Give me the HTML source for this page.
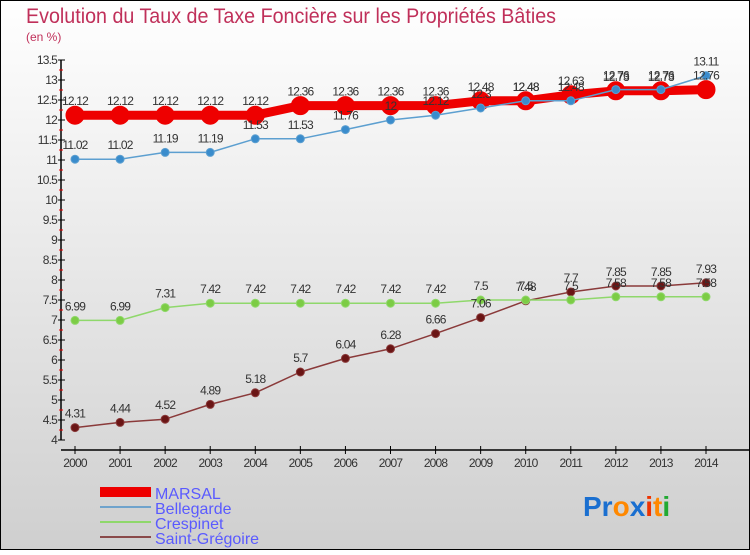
<!DOCTYPE html>
<html><head><meta charset="utf-8"><style>
body{margin:0}
#c{width:750px;height:550px;position:relative;font-family:"Liberation Sans",sans-serif;}
svg text{font-family:"Liberation Sans",sans-serif;}
</style></head><body>
<div id="c">
<svg id="s" width="750" height="550" xmlns="http://www.w3.org/2000/svg">
<defs><linearGradient id="bg" x1="0" y1="0" x2="0" y2="1"><stop offset="0" stop-color="#ffffff"/><stop offset="1" stop-color="#cfcfcf"/></linearGradient></defs>
<rect x="0.5" y="0.5" width="749" height="549" fill="url(#bg)" stroke="#000"/>
<text x="26" y="23" font-size="21" fill="#c0305a" textLength="530" lengthAdjust="spacingAndGlyphs">Evolution du Taux de Taxe Foncière sur les Propriétés Bâties</text>
<text x="26" y="41" font-size="12" fill="#c0305a">(en %)</text>
<g id="axes"></g><g id="series"></g><g id="labels"></g>
<g>
<rect x="100" y="487" width="51" height="10" fill="#ee0000"/>
<text x="155" y="499" font-size="16" fill="#5a5aff">MARSAL</text>
<rect x="100" y="506" width="51" height="2" fill="#6fa3cc"/>
<text x="155" y="514" font-size="16" fill="#5a5aff">Bellegarde</text>
<rect x="100" y="521" width="51" height="2" fill="#8fd86b"/>
<text x="155" y="529" font-size="16" fill="#5a5aff">Crespinet</text>
<rect x="100" y="536" width="51" height="2" fill="#8a4a4a"/>
<text x="155" y="544" font-size="16" fill="#5a5aff">Saint-Grégoire</text>
</g>
<g font-size="28" font-weight="bold">
<text x="583" y="516"><tspan fill="#1a6fd0">Pr</tspan><tspan fill="#ff8800">o</tspan><tspan fill="#1a6fd0">x</tspan><tspan fill="#ee3300">i</tspan><tspan fill="#ff8800">t</tspan><tspan fill="#22aa33">i</tspan></text>
</g>
</svg></div>
<script>
const years=[2000,2001,2002,2003,2004,2005,2006,2007,2008,2009,2010,2011,2012,2013,2014];
const marsal=[12.12,12.12,12.12,12.12,12.12,12.36,12.36,12.36,12.36,12.48,12.48,12.63,12.73,12.73,12.76];
const bellegarde=[11.02,11.02,11.19,11.19,11.53,11.53,11.76,12,12.12,12.3,12.48,12.48,12.76,12.76,13.11];
const crespinet=[6.99,6.99,7.31,7.42,7.42,7.42,7.42,7.42,7.42,7.5,7.5,7.5,7.58,7.58,7.58];
const saintGregoire=[4.31,4.44,4.52,4.89,5.18,5.7,6.04,6.28,6.66,7.06,7.48,7.7,7.85,7.85,7.93];
const yTicks=[4,4.5,5,5.5,6,6.5,7,7.5,8,8.5,9,9.5,10,10.5,11,11.5,12,12.5,13,13.5];
const NS="http://www.w3.org/2000/svg";
const X=i=>75+i*(706-75)/(years.length-1);
const Y=v=>440-(v-4)*40;
function mk(t,a,p){const e=document.createElementNS(NS,t);for(const k in a)e.setAttribute(k,a[k]);p.appendChild(e);return e;}
const ax=document.getElementById('axes');
const ya=mk('line',{x1:61,y1:60,x2:61,y2:440,stroke:'#000','stroke-width':1.5},ax);


const xa=mk('line',{x1:61,y1:450,x2:750,y2:450,stroke:'#000','stroke-width':1.5},ax);


yTicks.forEach((v,i)=>{
  mk('line',{x1:58,y1:Y(v),x2:65,y2:Y(v),stroke:'#000'},ax);
  if(i<yTicks.length-1)mk('line',{x1:59,y1:Y(v+0.25),x2:63,y2:Y(v+0.25),stroke:'#e00'},ax);
  const t=mk('text',{x:57,y:Y(v)+4,'font-size':12,'text-anchor':'end',fill:'#333','letter-spacing':'-0.8'},ax);
  t.textContent=String(v);
  
  
});
years.forEach((y,i)=>{
  mk('line',{x1:X(i),y1:446,x2:X(i),y2:454,stroke:'#000'},ax);
  const t=mk('text',{x:X(i),y:467,'font-size':12,'text-anchor':'middle',fill:'#333','letter-spacing':'-0.8'},ax);
  t.textContent=String(y);
  
  
});
const sg=document.getElementById('series'),lg=document.getElementById('labels');
function draw(vals,name,color,w,r,dot){
  const g=mk('g',{},sg);
  
  
  const pl=mk('polyline',{points:vals.map((v,i)=>X(i)+','+Y(v)).join(' '),fill:'none',stroke:color,'stroke-width':w,'stroke-linejoin':'round'},g);
  
  
  vals.forEach((v,i)=>{
    const c=mk('circle',{cx:X(i),cy:Y(v),r:r,fill:dot,stroke:color,'stroke-width':1},g);
    
    
    const t=mk('text',{x:X(i),y:Y(v)-10,'font-size':12,'text-anchor':'middle',fill:'#333','letter-spacing':'-0.8'},lg);
    t.textContent=String(v);
    
    
  });
}
draw(saintGregoire,'saint-gregoire','#8a3a3a',1.5,4,'#6a1515');
draw(crespinet,'crespinet','#8fd86b',1.5,4,'#7ccc45');
draw(marsal,'marsal','#ee0000',9,9,'#ee0000');
draw(bellegarde,'bellegarde','#5c9fd0',1.5,4,'#3a8ccc');
</script>
</body></html>
